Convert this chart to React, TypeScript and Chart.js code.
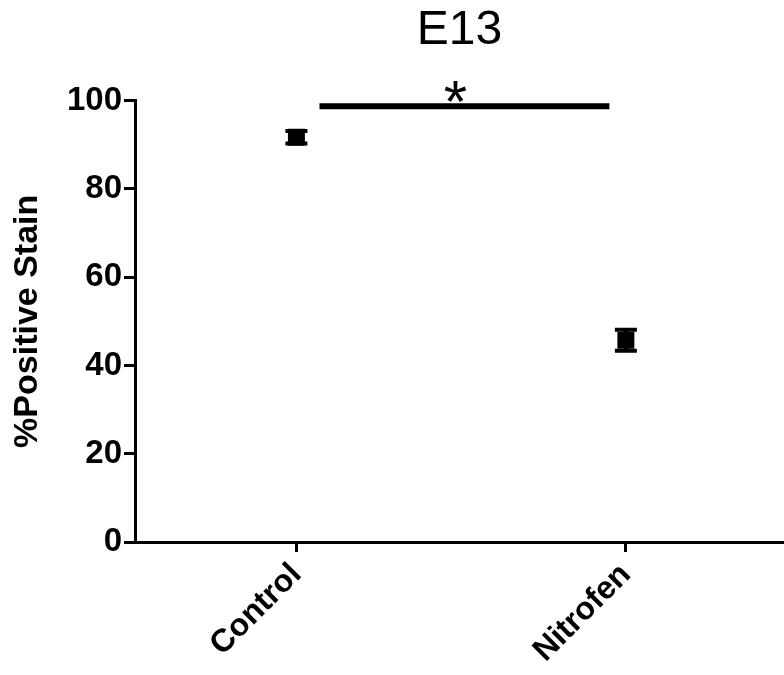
import { useEffect, useRef } from 'react';
import { Chart, registerables } from 'chart.js';

Chart.register(...registerables);

const FONT = "'Liberation Sans', Arial, Helvetica, sans-serif";

const categories = ['Control', 'Nitrofen'];
const means = [91.7, 45.7];
const sems = [1.4, 2.4];
const yTicks = [0, 20, 40, 60, 80, 100];
const bracketX = [0.07, 0.95];
const bracketY = 98.7;
const bracketLabel = '*';

export default function App() {
  const ref = useRef<HTMLCanvasElement>(null);

  useEffect(() => {
    document.body.style.margin = '0';
    const canvas = ref.current;
    if (!canvas) return;

    const errorBars = {
      id: 'errorBars',
      afterDatasetsDraw(chart: any) {
        const { ctx } = chart;
        const xs = chart.scales.x;
        const ys = chart.scales.y;
        ctx.save();
        ctx.strokeStyle = '#000';
        ctx.lineWidth = 4;
        ctx.lineCap = 'butt';
        means.forEach((m, i) => {
          const px = xs.getPixelForValue(i);
          const lo = ys.getPixelForValue(m - sems[i]);
          const hi = ys.getPixelForValue(m + sems[i]);
          ctx.beginPath();
          ctx.moveTo(px, lo);
          ctx.lineTo(px, hi);
          ctx.moveTo(px - 11, lo);
          ctx.lineTo(px + 11, lo);
          ctx.moveTo(px - 11, hi);
          ctx.lineTo(px + 11, hi);
          ctx.stroke();
        });
        ctx.restore();
      },
    };

    const bracket = {
      id: 'bracket',
      afterDraw(chart: any) {
        const { ctx } = chart;
        const xs = chart.scales.x;
        const ys = chart.scales.y;
        const x0 = xs.getPixelForValue(bracketX[0]);
        const x1 = xs.getPixelForValue(bracketX[1]);
        const py = ys.getPixelForValue(bracketY);
        ctx.save();
        ctx.strokeStyle = '#000';
        ctx.lineWidth = 6;
        ctx.beginPath();
        ctx.moveTo(x0, py);
        ctx.lineTo(x1, py);
        ctx.stroke();
        ctx.fillStyle = '#000';
        ctx.font = `normal 60px ${FONT}`;
        ctx.textAlign = 'center';
        ctx.textBaseline = 'alphabetic';
        const mt = ctx.measureText(bracketLabel);
        const gh = mt.actualBoundingBoxAscent + mt.actualBoundingBoxDescent;
        const bottomTarget = py - 4;
        const baseline = bottomTarget - gh + mt.actualBoundingBoxAscent;
        ctx.fillText(bracketLabel, (x0 + x1) / 2 - 9, baseline);
        ctx.restore();
      },
    };

    const chart = new Chart(canvas, {
      type: 'scatter',
      data: {
        datasets: [
          {
            data: categories.map((_, i) => ({ x: i, y: means[i] })),
            pointStyle: 'rect',
            pointRadius: 12,
            backgroundColor: '#000',
            borderColor: '#000',
            borderWidth: 0,
          },
        ],
      },
      options: {
        responsive: false,
        animation: false,
        layout: { autoPadding: false, padding: 0 },
        plugins: {
          legend: { display: false },
          tooltip: { enabled: false },
          title: {
            display: true,
            text: 'E13',
            fullSize: false,
            color: '#000',
            font: { family: FONT, size: 48, weight: 'normal' },
            padding: { top: 2, bottom: 41 },
          },
        },
        scales: {
          x: {
            type: 'linear',
            min: -0.49,
            max: 1.48,
            afterBuildTicks: (s: any) => {
              s.ticks = categories.map((_, i) => ({ value: i }));
            },
            afterFit: (s: any) => {
              s.height = 133;
              s.paddingLeft = 0;
              s.paddingRight = 0;
            },
            ticks: {
              callback: (v: any) => categories[v] ?? '',
              minRotation: 45,
              maxRotation: 45,
              autoSkip: false,
              color: '#000',
              font: { family: FONT, size: 32, weight: 'bold' },
              padding: 4,
            },
            grid: {
              display: true,
              drawOnChartArea: false,
              drawTicks: true,
              tickLength: 10,
              color: '#000',
              lineWidth: 3,
            },
            border: { display: true, color: '#000', width: 3 },
          },
          y: {
            min: 0,
            max: 100,
            afterBuildTicks: (s: any) => {
              s.ticks = yTicks.map((v) => ({ value: v }));
            },
            afterFit: (s: any) => {
              s.width = 135;
            },
            ticks: {
              color: '#000',
              font: { family: FONT, size: 33, weight: 'bold' },
              padding: 2,
            },
            grid: {
              display: true,
              drawOnChartArea: false,
              drawTicks: true,
              tickLength: 11,
              color: '#000',
              lineWidth: 3,
            },
            border: { display: true, color: '#000', width: 3 },
            title: {
              display: true,
              text: '%Positive Stain',
              color: '#000',
              font: { family: FONT, size: 34, weight: 'bold' },
              padding: { top: 7, bottom: 0 },
            },
          },
        },
      },
      plugins: [errorBars, bracket],
    } as any);

    return () => chart.destroy();
  }, []);

  return <canvas ref={ref} width={784} height={675} style={{ display: 'block' }} />;
}
